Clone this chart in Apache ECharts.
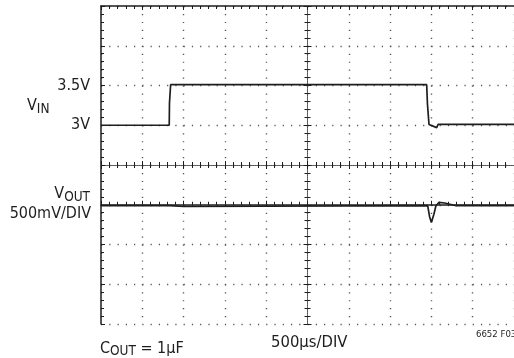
<!DOCTYPE html>
<html>
<head>
<meta charset="utf-8">
<script src="https://cdn.jsdelivr.net/npm/echarts@6/dist/echarts.min.js"></script>
<style>
  html, body { margin: 0; padding: 0; background: #fff; }
  #chart { width: 514px; height: 358px; }
</style>
</head>
<body>
<div id="chart"></div>
<script>
// time axis in microseconds, 500us per division
const vinTime = [0, 826, 829, 843, 3943, 3952, 3971, 4064, 4080, 5000]
const vinVolts = [3.0, 3.0, 3.28, 3.51, 3.51, 3.27, 3.01, 2.97, 3.01, 3.01]

// output deviation in mV, 500mV per division
const voutTime = [0, 830, 850, 1000, 1010, 3955, 3978, 4000, 4030, 4055, 4090, 4160, 4300, 5000]
const voutMv = [-12, -12, -22, -22, -12, -12, -150, -222, -120, -12, 29, 22, -12, -12]

const vinTicks = { 3: '3V', 3.5: '3.5V' }

const font = '"DejaVu Sans Condensed", "Liberation Sans Narrow", sans-serif'
const ink = '#1e1e1e'
const dotColor = '#555'

let chart = echarts.init(document.getElementById('chart'))

const tickBits = {
  axisTick: { show: true, inside: true, length: 4, lineStyle: { color: ink, width: 1 } },
  minorTick: { show: true, splitNumber: 5, length: 3, lineStyle: { color: ink, width: 1 } },
  axisLabel: { show: false }
}
const centerLine = { show: true, lineStyle: { color: dotColor, width: 1, type: [1, 1] } }
const sub = (lh) => ({ fontFamily: font, fontSize: 13.5, color: ink, verticalAlign: 'bottom', lineHeight: lh })

let option = {
  animation: false,
  grid: { left: 101, top: 6, right: 0, bottom: 34 },
  title: [
    {
      text: 'V{s|IN}', left: 27, top: 96, padding: 0,
      textStyle: {
        rich: { s: sub(20) },
        fontFamily: font, fontSize: 16, color: ink, fontWeight: 'normal', lineHeight: 20, verticalAlign: 'top'
      }
    },
    {
      text: 'V{s|OUT}', right: 424, top: 184, padding: 0,
      textStyle: {
        rich: { s: sub(20) },
        fontFamily: font, fontSize: 16, color: ink, fontWeight: 'normal', lineHeight: 20, verticalAlign: 'top'
      }
    },
    {
      text: '500mV/DIV', right: 423, top: 206, padding: 0,
      textStyle: { fontFamily: font, fontSize: 16, color: ink, fontWeight: 'normal' }
    },
    {
      text: 'C{s|OUT} = 1µF', left: 100, top: 340, padding: 0,
      textStyle: {
        rich: { s: sub(18) },
        fontFamily: font, fontSize: 16, color: ink, fontWeight: 'normal', lineHeight: 18, verticalAlign: 'top'
      }
    },
    {
      text: '500µs/DIV', left: 271, top: 334, padding: 0,
      textStyle: { fontFamily: font, fontSize: 16.5, color: ink, fontWeight: 'normal' }
    },
    {
      text: '6652 F03', left: 476, top: 330, padding: 0,
      textStyle: { fontFamily: font, fontSize: 9.5, color: ink, fontWeight: 'normal' }
    }
  ],
  xAxis: [
    {
      type: 'value', min: 0, max: 5000, interval: 500, position: 'bottom',
      axisLine: { show: true, lineStyle: { color: ink, width: 1.5 } },
      splitLine: { show: true, lineStyle: { color: dotColor, width: 1.4, type: [1.2, 6.75] } },
      ...tickBits
    },
    {
      type: 'value', min: 0, max: 5000, interval: 500, position: 'top',
      axisLine: { show: true, lineStyle: { color: ink, width: 1.5 } },
      splitLine: { show: false },
      ...tickBits
    },
    {
      type: 'value', min: 0, max: 5000, interval: 500, position: 'bottom', offset: -159,
      axisLine: centerLine, splitLine: { show: false }, ...tickBits
    },
    {
      type: 'value', min: 0, max: 5000, interval: 500, position: 'top', offset: -159,
      axisLine: centerLine, splitLine: { show: false }, ...tickBits
    }
  ],
  yAxis: [
    {
      type: 'value', min: 0.5, max: 4.5, interval: 0.5, position: 'left',
      axisLine: { show: true, lineStyle: { color: ink, width: 1.5 } },
      splitLine: { show: true, lineStyle: { color: dotColor, width: 1.4, type: [1.2, 7.06] } },
      axisTick: tickBits.axisTick,
      minorTick: tickBits.minorTick,
      axisLabel: {
        show: true, margin: 11, fontFamily: font, fontSize: 16, color: ink,
        formatter: v => vinTicks[v] || ''
      }
    },
    { type: 'value', min: -1500, max: 2500, show: false },
    {
      type: 'value', min: 0.5, max: 4.5, interval: 0.5, position: 'left', offset: -206.5,
      axisLine: centerLine, splitLine: { show: false }, ...tickBits
    },
    {
      type: 'value', min: 0.5, max: 4.5, interval: 0.5, position: 'right', offset: -206.5,
      axisLine: centerLine, splitLine: { show: false }, ...tickBits
    }
  ],
  series: [
    {
      name: 'VIN', type: 'line', xAxisIndex: 0, yAxisIndex: 0,
      data: vinTime.map((t, i) => [t, vinVolts[i]]),
      showSymbol: false, lineStyle: { color: ink, width: 1.7 }
    },
    {
      name: 'VOUT', type: 'line', xAxisIndex: 0, yAxisIndex: 1,
      data: voutTime.map((t, i) => [t, voutMv[i]]),
      showSymbol: false, lineStyle: { color: ink, width: 1.7 }
    }
  ]
}

chart.setOption(option)
</script>
</body>
</html>
